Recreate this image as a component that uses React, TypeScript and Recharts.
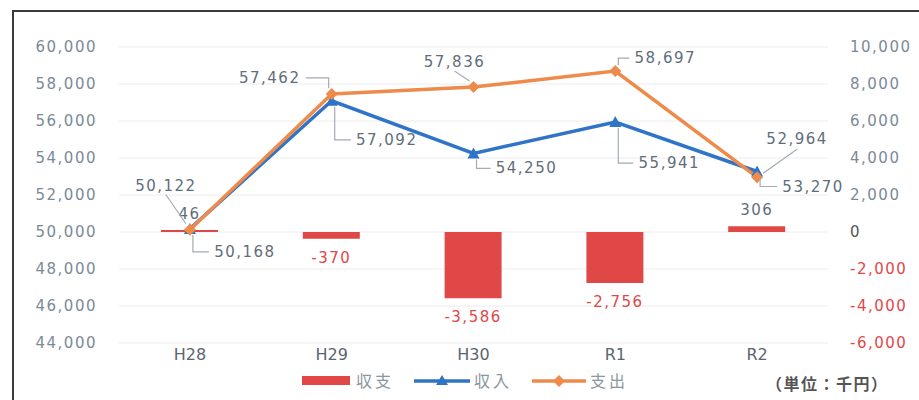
import { ComposedChart, Bar, Line, XAxis, YAxis, CartesianGrid, LabelList } from 'recharts';

const categories = ['H28', 'H29', 'H30', 'R1', 'R2'];
const balance = [46, -370, -3586, -2756, 306];
const income = [50168, 57092, 54250, 55941, 53270];
const expense = [50122, 57462, 57836, 58697, 52964];
const leftTicks = [44000, 46000, 48000, 50000, 52000, 54000, 56000, 58000, 60000];
const rightTicks = [-6000, -4000, -2000, 0, 2000, 4000, 6000, 8000, 10000];

// label placement (dx, dy from the point), hand-placed like the original
const expenseLabelOffsets = [[-24, -44], [-62, -16], [-19, -25], [50, -13], [40, -38]];
const incomeLabelOffsets = [[55, 23], [55, 39], [53, 15], [54, 41], [56, 15]];

const data = categories.map((name, i) => ({
  name,
  balance: balance[i],
  income: income[i],
  expense: expense[i],
}));

const FONT = "'DejaVu Sans', sans-serif";
const CJK = "'Noto Sans CJK JP', sans-serif";
const GRAY = '#5f6e7a';
const RED = '#e04848';
const BLUE = '#2f74c6';
const ORANGE = '#ee8a4a';

const fmt = (v: number) => v.toLocaleString('en-US');

function lineLabel(offsets: number[][]) {
  // eslint-disable-next-line @typescript-eslint/no-explicit-any
  return (props: any) => {
    const { x, y, value, index } = props;
    const [dx, dy] = offsets[index] || [0, -15];
    const cx = x + dx;
    const cy = y + dy;
    const hw = 33;
    let pts: string;
    if (Math.abs(dx) < hw) {
      pts = `${cx},${cy + (dy < 0 ? 9 : -9)} ${x + (dx < 0 ? -4 : 4)},${y + (dy < 0 ? -6 : 6)}`;
    } else if (dy < -30) {
      pts = `${cx},${cy + 10} ${x + (dx > 0 ? 6 : -6)},${y - 4}`;
    } else {
      const edge = dx > 0 ? cx - hw - 3 : cx + hw + 3;
      pts = `${edge},${cy} ${x + (dx > 0 ? 3 : -3)},${cy} ${x + (dx > 0 ? 3 : -3)},${y + (dy < 0 ? -6 : 6)}`;
    }
    return (
      <g>
        <polyline points={pts} fill="none" stroke="#a3abb3" strokeWidth={1.2} />
        <text x={cx} y={cy} textAnchor="middle" dominantBaseline="central" fill={GRAY}
          fontSize={15} fontFamily={FONT} style={{ letterSpacing: 1.5 }}>
          {fmt(value)}
        </text>
      </g>
    );
  };
}

// eslint-disable-next-line @typescript-eslint/no-explicit-any
const barLabel = (props: any) => {
  const { x, y, width, height, value } = props;
  const top = Math.min(y, y + height);
  const bottom = Math.max(y, y + height);
  const neg = value < 0;
  return (
    <text x={x + width / 2} y={neg ? bottom + 19 : top - 16} textAnchor="middle" dominantBaseline="central"
      fill={neg ? RED : GRAY} fontSize={15} fontFamily={FONT} style={{ letterSpacing: 1.5 }}>
      {fmt(value)}
    </text>
  );
};

// eslint-disable-next-line @typescript-eslint/no-explicit-any
const triangleDot = (props: any) => {
  const { cx, cy, index } = props;
  return <polygon key={index} points={`${cx},${cy - 6} ${cx + 6},${cy + 5} ${cx - 6},${cy + 5}`} fill={BLUE} />;
};

// eslint-disable-next-line @typescript-eslint/no-explicit-any
const diamondDot = (props: any) => {
  const { cx, cy, index } = props;
  return <polygon key={index} points={`${cx},${cy - 6} ${cx + 6},${cy} ${cx},${cy + 6} ${cx - 6},${cy}`} fill={ORANGE} />;
};

// eslint-disable-next-line @typescript-eslint/no-explicit-any
const rightTick = (props: any) => {
  const { x, y, payload } = props;
  const v = payload.value;
  const fill = v < 0 ? RED : v === 0 ? '#555' : '#7b8a97';
  return (
    <text x={x} y={y} textAnchor="start" dominantBaseline="central" fill={fill}
      fontSize={15} fontFamily={FONT} style={{ letterSpacing: 1.5 }}>
      {fmt(v)}
    </text>
  );
};

export default function App() {
  return (
    <div style={{ position: 'absolute', left: 0, top: 0, width: 919, height: 400, background: '#fff', overflow: 'hidden' }}>
      <div style={{ position: 'absolute', left: 12, top: 10, width: 940, height: 420, border: '2px solid #3a3a3a' }} />
      <ComposedChart width={919} height={400} data={data} margin={{ top: 47, right: 0, bottom: 32, left: 0 }}>
        <CartesianGrid yAxisId="left" vertical={false} stroke="#ececec" />
        <XAxis dataKey="name" axisLine={false} tickLine={false} tickSize={0} tickMargin={6} height={25}
          tick={{ fontSize: 16, fill: '#5a6570', fontFamily: FONT }} />
        <YAxis yAxisId="left" domain={[44000, 60000]} ticks={leftTicks} width={119} axisLine={false}
          tickLine={false} tickSize={0} tickMargin={22} tickFormatter={fmt}
          tick={{ fontSize: 15, fill: '#7b8a97', fontFamily: FONT, style: { letterSpacing: 1.5 } }} />
        <YAxis yAxisId="right" orientation="right" domain={[-6000, 10000]} ticks={rightTicks} width={91}
          axisLine={false} tickLine={false} tickSize={0} tickMargin={22} tick={rightTick} />
        <Bar yAxisId="right" dataKey="balance" fill={RED} barSize={57} minPointSize={2} isAnimationActive={false}>
          <LabelList dataKey="balance" content={barLabel} />
        </Bar>
        <Line yAxisId="left" dataKey="income" stroke={BLUE} strokeWidth={3.5} dot={triangleDot}
          activeDot={false} isAnimationActive={false}>
          <LabelList dataKey="income" content={lineLabel(incomeLabelOffsets)} />
        </Line>
        <Line yAxisId="left" dataKey="expense" stroke={ORANGE} strokeWidth={3.5} dot={diamondDot}
          activeDot={false} isAnimationActive={false}>
          <LabelList dataKey="expense" content={lineLabel(expenseLabelOffsets)} />
        </Line>
      </ComposedChart>
      <div style={{ position: 'absolute', left: 302, top: 368, display: 'flex', alignItems: 'center',
        fontFamily: CJK, fontSize: 16, color: '#8a96a0', letterSpacing: 3 }}>
        <svg width={50} height={20}><rect x={0} y={6} width={48} height={9} fill={RED} /></svg>
        <span style={{ marginLeft: 4, marginRight: 20 }}>収支</span>
        <svg width={56} height={20}>
          <line x1={0} y1={11} x2={56} y2={11} stroke={BLUE} strokeWidth={3.5} />
          <polygon points="28,5 34,15 22,15" fill={BLUE} />
        </svg>
        <span style={{ marginLeft: 4, marginRight: 20 }}>収入</span>
        <svg width={54} height={20}>
          <line x1={0} y1={11} x2={54} y2={11} stroke={ORANGE} strokeWidth={3.5} />
          <polygon points="27,5 33,11 27,17 21,11" fill={ORANGE} />
        </svg>
        <span style={{ marginLeft: 4 }}>支出</span>
      </div>
      <div style={{ position: 'absolute', left: 766, top: 371, fontFamily: CJK, fontSize: 16, color: '#555',
        fontWeight: 700, letterSpacing: 1.5 }}>
        （単位：千円）
      </div>
    </div>
  );
}
